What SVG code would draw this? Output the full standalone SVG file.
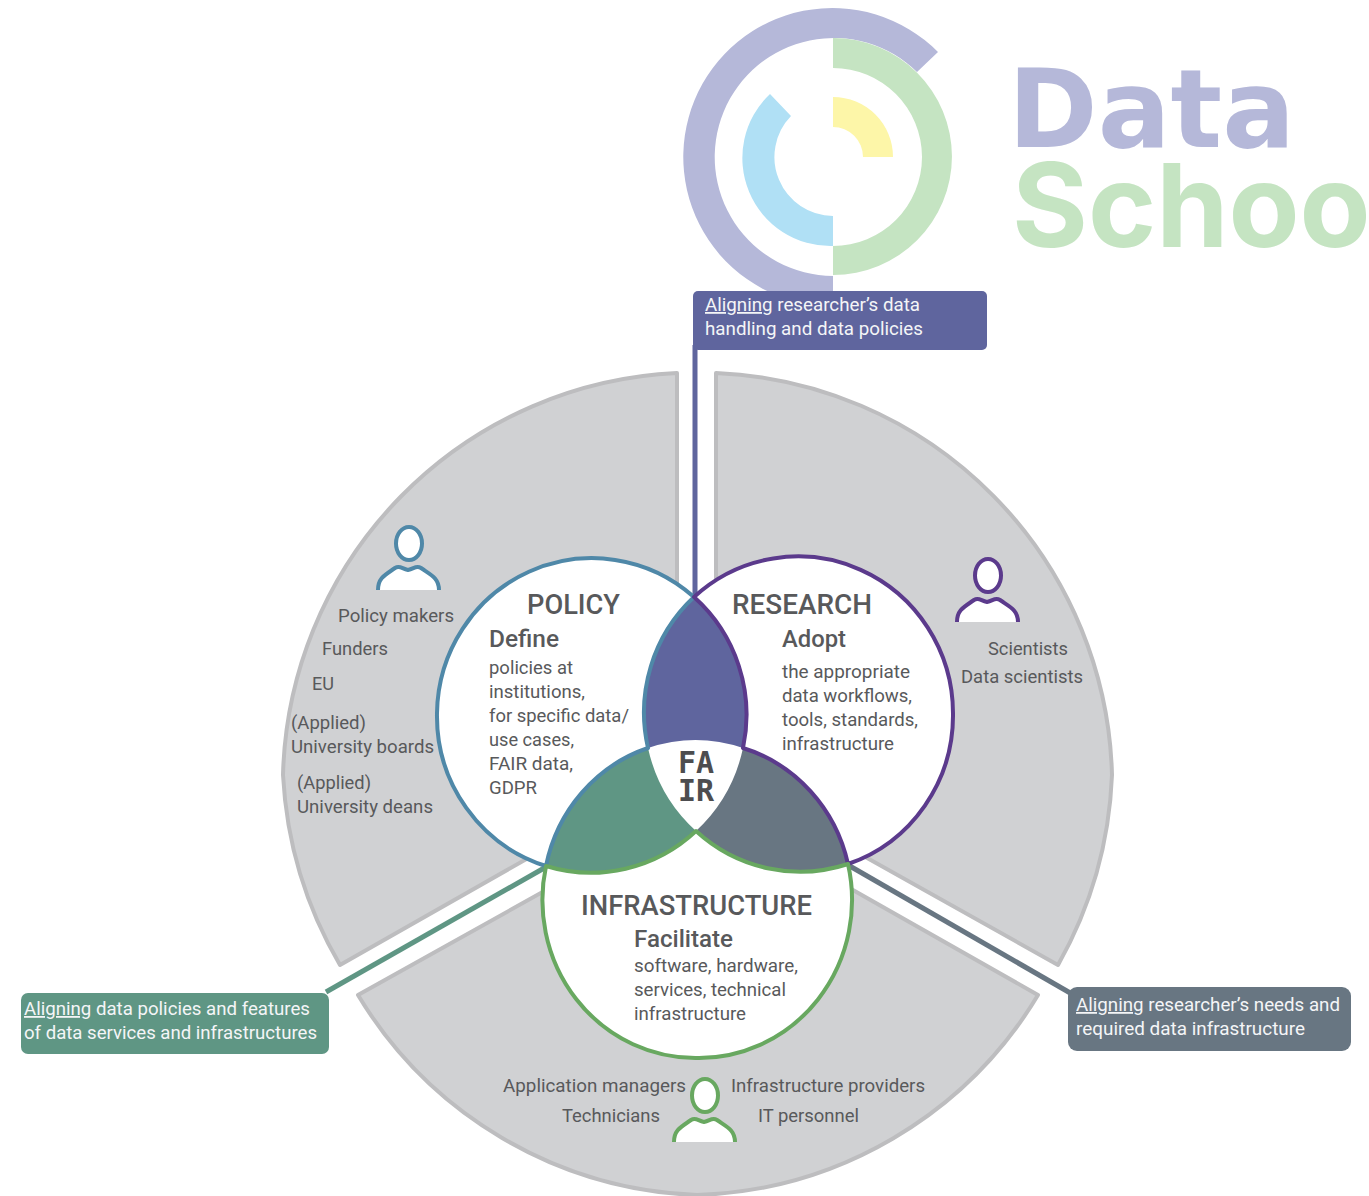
<svg xmlns="http://www.w3.org/2000/svg" width="1369" height="1196" viewBox="0 0 1369 1196">
<style>
text{font-family:"Roboto","Liberation Sans",sans-serif;fill:#58595b}
.b{font-size:18px}
.h{font-size:28px;font-weight:500}
.s{font-size:24px;font-weight:500}
.w{font-size:18px;fill:#f4f5f7}
.sector{fill:#d0d1d3;stroke:#bdbdbf;stroke-width:4;stroke-linejoin:round}
.ring{fill:none;stroke-width:4;stroke-linejoin:round}
.conn{fill:none;stroke-width:5}
.logo{font-family:"Inter","Lato",sans-serif;font-weight:700}
.fair{font-family:"DejaVu Sans Mono","Liberation Mono",monospace;font-weight:700;font-size:30px;fill:#4d4d4f}
.head{fill:#fff;stroke-width:4}
.body{fill:#fff;stroke-width:4;stroke-linejoin:round}
</style>
<defs>
<g id="person">
<path class="body" d="M378,590 C378,578 385,575 395,568 C400,565 402,569 408,570 C414,569 416,565 421,568 C431,575 439,578 439,590"/>
<ellipse class="head" cx="409" cy="543.5" rx="13" ry="16.5"/>
</g>
<path id="p-policy" d="M694,597 A155,157 0 0 0 648,748 A153,158 0 0 0 546,866 A155,157 0 0 1 437,713 A155,157 0 0 1 694,597 Z"/>
<path id="p-research" d="M694,597 A155,157 0 0 1 743,748 A153,158 0 0 1 848,864 A155,157 0 0 0 953,713 A155,157 0 0 0 694,597 Z"/>
<path id="p-infra" d="M546,866 A155,157 0 0 0 696,831 A155,157 0 0 0 848,864 A153,158 0 0 1 696,1058 A153,158 0 0 1 546,866 Z"/>
</defs>
<rect width="1369" height="1196" fill="#fff"/>
<g id="logo">
<path d="M938,52 A149,149 0 1 0 833,306 L833,276 A119,119 0 1 1 917,72 Z" fill="#b5b8d9"/>
<path d="M833,38 A119,118.5 0 0 1 833,275 L833,246 A89,89 0 0 0 833,68 Z" fill="#c5e4c2"/>
<path d="M770,94 A88,88 0 0 0 833,246 L833,216 A59,59 0 0 1 791,116 Z" fill="#b0e0f5"/>
<path d="M833,97 A60,60 0 0 1 893,157 L863,157 A30,30 0 0 0 833,127 Z" fill="#fdf6a8"/>
<text class="logo"><tspan x="1008" y="147" font-size="108" style="font-family:'DejaVu Sans',sans-serif;fill:#b5b8d9">Data</tspan><tspan x="1012" y="247" font-size="116" style="fill:#c5e4c2">Schoo</tspan></text>
</g>
<g id="sectors">
<path id="sector-left" class="sector" d="M677,373 A413,413 0 0 0 283,775 A420,420 0 0 0 340,965 L560,840 L677,700 Z"/>
<path id="sector-right" class="sector" d="M716,373 A413,413 0 0 1 1112,775 A420,420 0 0 1 1058,965 L835,840 L716,700 Z"/>
<path id="sector-bottom" class="sector" d="M358,995 A413,413 0 0 0 697,1195 A413,413 0 0 0 1038,995 L800,860 L600,860 Z"/>
</g>
<g id="connectors">
<path class="conn" stroke="#5f659e" d="M695,597 L695,345"/>
<path class="conn" stroke="#5f9684" d="M546,867 L326,992"/>
<path class="conn" stroke="#687682" d="M848,865 L1072,994"/>
</g>
<g id="venn">
<use href="#p-policy" fill="#fff"/>
<use href="#p-research" fill="#fff"/>
<use href="#p-infra" fill="#fff"/>
<path id="center" fill="#fff" d="M648,748 A153,158 0 0 1 743,748 A155,157 0 0 1 696,831 A155,157 0 0 1 648,748 Z"/>
<path id="lens-top" fill="#5f659e" d="M694,597 A155,157 0 0 0 648,748 A153,158 0 0 1 743,748 A155,157 0 0 0 694,597 Z"/>
<path id="lens-left" fill="#5f9684" d="M648,748 A153,158 0 0 0 546,866 A155,157 0 0 0 696,831 A155,157 0 0 1 648,748 Z"/>
<path id="lens-right" fill="#687682" d="M743,748 A153,158 0 0 1 848,864 A155,157 0 0 1 696,831 A155,157 0 0 0 743,748 Z"/>
</g>
<g id="policy">
<use href="#p-policy" class="ring" stroke="#4f88a8"/>
<text class="h" x="527" y="614" textLength="93" lengthAdjust="spacingAndGlyphs">POLICY</text>
<text class="s" x="489" y="647" textLength="70" lengthAdjust="spacingAndGlyphs">Define</text>
<text class="b" x="489" y="674" textLength="84" lengthAdjust="spacingAndGlyphs">policies at</text>
<text class="b" x="489" y="698" textLength="96" lengthAdjust="spacingAndGlyphs">institutions,</text>
<text class="b" x="489" y="722" textLength="140" lengthAdjust="spacingAndGlyphs">for specific data/</text>
<text class="b" x="489" y="746" textLength="85" lengthAdjust="spacingAndGlyphs">use cases,</text>
<text class="b" x="489" y="770" textLength="84" lengthAdjust="spacingAndGlyphs">FAIR data,</text>
<text class="b" x="489" y="794" textLength="48" lengthAdjust="spacingAndGlyphs">GDPR</text>
</g>
<g id="research">
<use href="#p-research" class="ring" stroke="#5b3a8c"/>
<text class="h" x="732" y="614" textLength="140" lengthAdjust="spacingAndGlyphs">RESEARCH</text>
<text class="s" x="782" y="647" textLength="64" lengthAdjust="spacingAndGlyphs">Adopt</text>
<text class="b" x="782" y="678" textLength="128" lengthAdjust="spacingAndGlyphs">the appropriate</text>
<text class="b" x="782" y="702" textLength="130" lengthAdjust="spacingAndGlyphs">data workflows,</text>
<text class="b" x="782" y="726" textLength="136" lengthAdjust="spacingAndGlyphs">tools, standards,</text>
<text class="b" x="782" y="750" textLength="112" lengthAdjust="spacingAndGlyphs">infrastructure</text>
</g>
<g id="infrastructure">
<use href="#p-infra" class="ring" stroke="#68a860"/>
<text class="h" x="581" y="915" textLength="231" lengthAdjust="spacingAndGlyphs">INFRASTRUCTURE</text>
<text class="s" x="634" y="947" textLength="99" lengthAdjust="spacingAndGlyphs">Facilitate</text>
<text class="b" x="634" y="972" textLength="164" lengthAdjust="spacingAndGlyphs">software, hardware,</text>
<text class="b" x="634" y="996" textLength="152" lengthAdjust="spacingAndGlyphs">services, technical</text>
<text class="b" x="634" y="1020" textLength="112" lengthAdjust="spacingAndGlyphs">infrastructure</text>
</g>
<g id="fair">
<text class="fair"><tspan x="678" y="773">FA</tspan><tspan x="678" y="801">IR</tspan></text>
</g>
<g id="policy-people">
<use href="#person" stroke="#4f88a8"/>
<text class="b" x="338" y="622" textLength="116" lengthAdjust="spacingAndGlyphs">Policy makers</text>
<text class="b" x="322" y="655" textLength="66" lengthAdjust="spacingAndGlyphs">Funders</text>
<text class="b" x="312" y="690" textLength="22" lengthAdjust="spacingAndGlyphs">EU</text>
<text class="b" x="291" y="729" textLength="75" lengthAdjust="spacingAndGlyphs">(Applied)</text>
<text class="b" x="291" y="753" textLength="143" lengthAdjust="spacingAndGlyphs">University boards</text>
<text class="b" x="297" y="789" textLength="74" lengthAdjust="spacingAndGlyphs">(Applied)</text>
<text class="b" x="297" y="813" textLength="136" lengthAdjust="spacingAndGlyphs">University deans</text>
</g>
<g id="research-people">
<use href="#person" x="579" y="32" stroke="#5b3a8c"/>
<text class="b" x="988" y="655" textLength="80" lengthAdjust="spacingAndGlyphs">Scientists</text>
<text class="b" x="961" y="683" textLength="122" lengthAdjust="spacingAndGlyphs">Data scientists</text>
</g>
<g id="infrastructure-people">
<use href="#person" x="296" y="552" stroke="#68a860"/>
<text class="b" x="503" y="1092" textLength="183" lengthAdjust="spacingAndGlyphs">Application managers</text>
<text class="b" x="731" y="1092" textLength="194" lengthAdjust="spacingAndGlyphs">Infrastructure providers</text>
<text class="b" x="562" y="1122" textLength="98" lengthAdjust="spacingAndGlyphs">Technicians</text>
<text class="b" x="758" y="1122" textLength="101" lengthAdjust="spacingAndGlyphs">IT personnel</text>
</g>
<g id="callout-top">
<rect x="693" y="291" width="294" height="59" rx="5" fill="#5f659e"/>
<text class="w" x="705" y="311" textLength="215" lengthAdjust="spacingAndGlyphs"><tspan text-decoration="underline">Aligning</tspan> researcher’s data</text>
<text class="w" x="705" y="335" textLength="218" lengthAdjust="spacingAndGlyphs">handling and data policies</text>
</g>
<g id="callout-left">
<rect x="21" y="993" width="308" height="61" rx="7" fill="#5f9684"/>
<text class="w" x="24" y="1015" textLength="286" lengthAdjust="spacingAndGlyphs"><tspan text-decoration="underline">Aligning</tspan> data policies and features</text>
<text class="w" x="24" y="1039" textLength="293" lengthAdjust="spacingAndGlyphs">of data services and infrastructures</text>
</g>
<g id="callout-right">
<rect x="1068" y="987" width="283" height="64" rx="9" fill="#687682"/>
<text class="w" x="1076" y="1011" textLength="264" lengthAdjust="spacingAndGlyphs"><tspan text-decoration="underline">Aligning</tspan> researcher’s needs and</text>
<text class="w" x="1076" y="1035" textLength="229" lengthAdjust="spacingAndGlyphs">required data infrastructure</text>
</g>
</svg>
